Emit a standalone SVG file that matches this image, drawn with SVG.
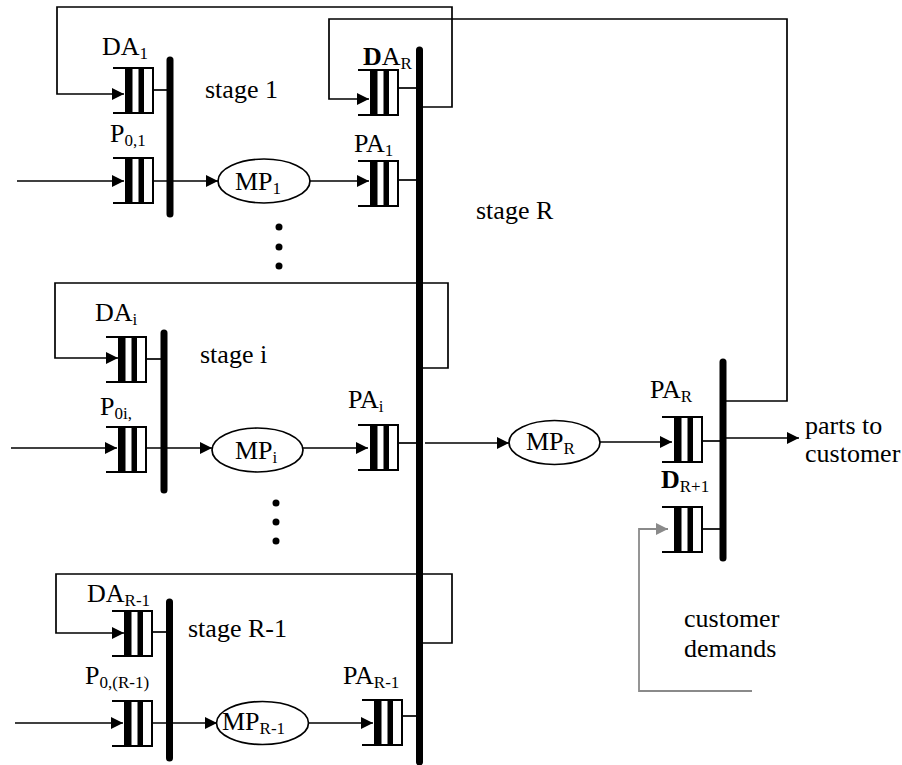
<svg xmlns="http://www.w3.org/2000/svg" xmlns:xlink="http://www.w3.org/1999/xlink" width="902" height="765" viewBox="0 0 902 765">
<style>
text{font-family:"Liberation Serif","Times New Roman",serif;font-size:26px;fill:#000}
.sub{font-size:17px}
.b{font-weight:bold}
.ln{fill:none;stroke:#000;stroke-width:1.7}
.gr{fill:none;stroke:#8a8a8a;stroke-width:1.8}
.bar{stroke:#000;stroke-width:7;stroke-linecap:round}
.ell{fill:#fff;stroke:#000;stroke-width:1.7}
</style>
<defs>
<marker id="ah" markerUnits="userSpaceOnUse" markerWidth="12" markerHeight="12" refX="12" refY="6" orient="auto"><path d="M0,0 L12,6 L0,12 z" fill="#000"/></marker>
<marker id="ahg" markerUnits="userSpaceOnUse" markerWidth="12" markerHeight="12" refX="12" refY="6" orient="auto"><path d="M0,0 L12,6 L0,12 z" fill="#8a8a8a"/></marker>
<g id="q">
<path d="M0,0 H40 V45 H0" fill="none" stroke="#000" stroke-width="2"/>
<rect x="12" y="0" width="7.5" height="45"/>
<rect x="25.5" y="0" width="5.5" height="45"/>
</g>
</defs>
<rect width="902" height="765" fill="#fff"/>

<g id="connectors">
<path class="ln" d="M419.5,107 H452 V7 H57 V94 H124" marker-end="url(#ah)"/>
<path class="ln" d="M723,401 H787 V19 H329 V99 H369" marker-end="url(#ah)"/>
<path class="ln" d="M153,90 H170"/>
<path class="ln" d="M17,181 H124" marker-end="url(#ah)"/>
<path class="ln" d="M153,181 H218" marker-end="url(#ah)"/>
<path class="ln" d="M310,181 H369" marker-end="url(#ah)"/>
<path class="ln" d="M398,88 H419"/>
<path class="ln" d="M398,180 H419"/>

<path class="ln" d="M419.5,368 H448 V283 H55 V358 H118" marker-end="url(#ah)"/>
<path class="ln" d="M146,359 H164"/>
<path class="ln" d="M11,448 H117" marker-end="url(#ah)"/>
<path class="ln" d="M146,448 H212" marker-end="url(#ah)"/>
<path class="ln" d="M303,448 H368" marker-end="url(#ah)"/>
<path class="ln" d="M398,443 H419"/>
<path class="ln" d="M425,443 H509" marker-end="url(#ah)"/>
<path class="ln" d="M600,442 H672" marker-end="url(#ah)"/>
<path class="ln" d="M702,441 H723"/>
<path class="ln" d="M726,438 H799" marker-end="url(#ah)"/>
<path class="ln" d="M702,529 H723"/>
<path class="gr" d="M752,691 H639 V529 H668" marker-end="url(#ahg)"/>

<path class="ln" d="M419.5,643 H452 V574 H56 V633 H124" marker-end="url(#ah)"/>
<path class="ln" d="M152,632 H170"/>
<path class="ln" d="M15,723 H123" marker-end="url(#ah)"/>
<path class="ln" d="M152,723 H217" marker-end="url(#ah)"/>
<path class="ln" d="M308.5,723 H373" marker-end="url(#ah)"/>
<path class="ln" d="M402,716 H419"/>
</g>

<g id="bars">
<line class="bar" x1="170" y1="60" x2="170" y2="214"/>
<line class="bar" x1="419.5" y1="50" x2="419.5" y2="762"/>
<line class="bar" x1="164" y1="333" x2="164" y2="490"/>
<line class="bar" x1="169.5" y1="602" x2="169.5" y2="758"/>
<line class="bar" x1="723" y1="362" x2="723" y2="558"/>
</g>

<g id="DA1"><use xlink:href="#q" x="113" y="68"/><text x="102" y="55">DA<tspan class="sub" dy="4">1</tspan></text></g>
<g id="P01"><use xlink:href="#q" x="113" y="158"/><text x="110" y="142">P<tspan class="sub" dy="4">0,1</tspan></text></g>
<g id="MP1"><ellipse class="ell" cx="264" cy="181" rx="46" ry="22"/><text x="235" y="190">MP<tspan class="sub" dy="4">1</tspan></text></g>
<g id="DAR"><use xlink:href="#q" x="358" y="70"/><text x="363" y="65"><tspan class="b">D</tspan>A<tspan class="sub" dy="4">R</tspan></text></g>
<g id="PA1"><use xlink:href="#q" x="358" y="161"/><text x="354" y="152">PA<tspan class="sub" dy="4">1</tspan></text></g>
<text id="stage1" x="205" y="98">stage 1</text>
<text id="stageR" x="476" y="219">stage R</text>

<g id="dots1"><circle cx="279" cy="227" r="3.5"/><circle cx="279" cy="247" r="3.5"/><circle cx="279" cy="266" r="3.5"/></g>

<g id="DAi"><use xlink:href="#q" x="106" y="337"/><text x="95" y="321">DA<tspan class="sub" dy="4">i</tspan></text></g>
<text id="stagei" x="200" y="363">stage i</text>
<g id="P0i"><use xlink:href="#q" x="106" y="427"/><text x="100" y="415">P<tspan class="sub" dy="4">0i,</tspan></text></g>
<g id="MPi"><ellipse class="ell" cx="257.5" cy="450" rx="45.5" ry="22"/><text x="235" y="459">MP<tspan class="sub" dy="4">i</tspan></text></g>
<g id="PAi"><use xlink:href="#q" x="358" y="425"/><text x="348" y="408">PA<tspan class="sub" dy="4">i</tspan></text></g>
<g id="MPR"><ellipse class="ell" cx="554.5" cy="442.5" rx="45.5" ry="22"/><text x="526" y="450">MP<tspan class="sub" dy="4">R</tspan></text></g>
<g id="PAR"><use xlink:href="#q" x="662" y="417"/><text x="650" y="398">PA<tspan class="sub" dy="4">R</tspan></text></g>
<g id="DR1"><use xlink:href="#q" x="662" y="507"/><text x="661" y="488"><tspan class="b">D</tspan><tspan class="sub" dy="4">R+1</tspan></text></g>
<text id="parts" x="805" y="434">parts to<tspan x="805" y="462">customer</tspan></text>
<text id="demands" x="684" y="627">customer<tspan x="684" y="657">demands</tspan></text>

<g id="dots2"><circle cx="276" cy="503" r="3.5"/><circle cx="276" cy="522" r="3.5"/><circle cx="276" cy="541" r="3.5"/></g>

<g id="DAR1"><use xlink:href="#q" x="112" y="611"/><text x="87" y="602">DA<tspan class="sub" dy="4">R-1</tspan></text></g>
<text id="stageR1" x="188" y="637">stage R-1</text>
<g id="P0R1"><use xlink:href="#q" x="112" y="701"/><text x="85" y="684">P<tspan class="sub" dy="4">0,(R-1)</tspan></text></g>
<g id="MPR1"><ellipse class="ell" cx="262.5" cy="723" rx="46" ry="21.5"/><text x="222" y="730">MP<tspan class="sub" dy="4">R-1</tspan></text></g>
<g id="PAR1"><use xlink:href="#q" x="362" y="700"/><text x="343" y="684">PA<tspan class="sub" dy="4">R-1</tspan></text></g>
</svg>
